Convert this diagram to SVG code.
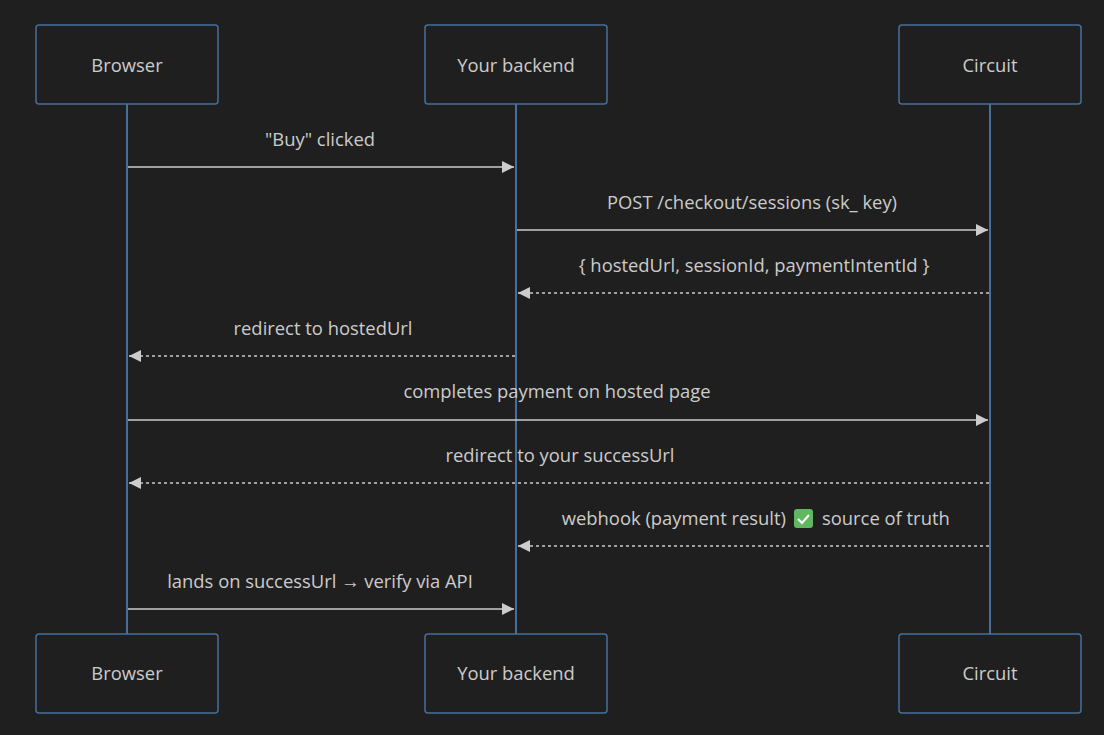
<svg xmlns="http://www.w3.org/2000/svg" width="1104" height="735" viewBox="0 0 1104 735">
<defs>
<style>
.box{fill:#1f1f1f;stroke:#44709a;stroke-width:1.5}
.life{stroke:#44709a;stroke-width:2}
.t{font-family:"Open Sans","Liberation Sans",sans-serif;font-size:18.4px;fill:#cccccc;text-anchor:middle}
.s{text-anchor:start}
.e{text-anchor:end}
.m{stroke:#cccccc;stroke-width:1.5;fill:none}
.d{stroke-dasharray:3 3}
</style>
<marker id="a" viewBox="0 0 10 10" refX="10" refY="5" markerWidth="12" markerHeight="12" markerUnits="userSpaceOnUse" orient="auto"><path d="M0 0L10 5L0 10z" fill="#cccccc"/></marker>
</defs>
<rect width="1104" height="735" fill="#1f1f1f"/>
<g id="lifelines">
<line class="life" x1="127" y1="104" x2="127" y2="634"/>
<line class="life" x1="516" y1="104" x2="516" y2="634"/>
<line class="life" x1="990" y1="104" x2="990" y2="634"/>
</g>
<g id="browser"><rect class="box" x="36" y="25" width="182" height="79" rx="3"/><text class="t" x="127" y="72">Browser</text></g>
<g id="backend"><rect class="box" x="425" y="25" width="182" height="79" rx="3"/><text class="t" x="516" y="72">Your backend</text></g>
<g id="circuit"><rect class="box" x="899" y="25" width="182" height="79" rx="3"/><text class="t" x="990" y="72">Circuit</text></g>
<g id="browser-bottom"><rect class="box" x="36" y="634" width="182" height="79" rx="3"/><text class="t" x="127" y="680">Browser</text></g>
<g id="backend-bottom"><rect class="box" x="425" y="634" width="182" height="79" rx="3"/><text class="t" x="516" y="680">Your backend</text></g>
<g id="circuit-bottom"><rect class="box" x="899" y="634" width="182" height="79" rx="3"/><text class="t" x="990" y="680">Circuit</text></g>
<g id="connectors">
<line class="m" x1="128" y1="167" x2="514" y2="167" marker-end="url(#a)"/>
<text class="t" x="320" y="146">"Buy" clicked</text>
<line class="m" x1="517" y1="230" x2="988" y2="230" marker-end="url(#a)"/>
<text class="t" x="752" y="209">POST /checkout/sessions (sk_ key)</text>
<line class="m d" x1="989" y1="293" x2="518" y2="293" marker-end="url(#a)"/>
<text class="t" x="754" y="272">{ hostedUrl, sessionId, paymentIntentId }</text>
<line class="m d" x1="515" y1="356" x2="129" y2="356" marker-end="url(#a)"/>
<text class="t" x="323" y="335">redirect to hostedUrl</text>
<line class="m" x1="128" y1="420" x2="988" y2="420" marker-end="url(#a)"/>
<text class="t" x="557" y="398">completes payment on hosted page</text>
<line class="m d" x1="989" y1="483" x2="129" y2="483" marker-end="url(#a)"/>
<text class="t" x="560" y="462">redirect to your successUrl</text>
<line class="m d" x1="989" y1="546" x2="518" y2="546" marker-end="url(#a)"/>
<text class="t e" x="786" y="525">webhook (payment result)</text>
<rect x="794" y="509" width="19" height="19" rx="3" fill="#5fb85f"/>
<path d="M798 519l4 4l7-8" stroke="#ffffff" stroke-width="2.2" fill="none"/>
<text class="t s" x="822" y="525">source of truth</text>
<line class="m" x1="128" y1="609" x2="514" y2="609" marker-end="url(#a)"/>
<text class="t" x="320" y="588">lands on successUrl → verify via API</text>
</g>
</svg>
